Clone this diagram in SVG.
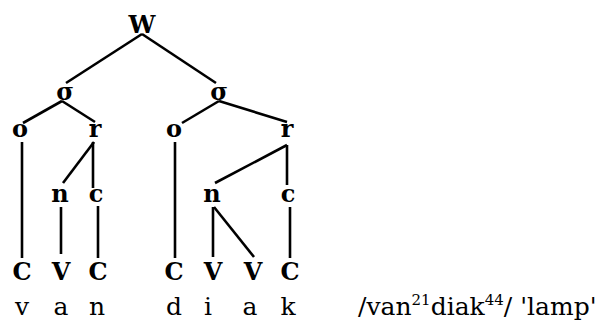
<svg xmlns="http://www.w3.org/2000/svg" width="603" height="321" viewBox="0 0 603 321">
  <style>
    .lab { font-family: "DejaVu Serif", "Liberation Serif", serif; font-weight: bold; font-size: 24px; text-anchor: middle; fill: #000; }
    .seg { font-family: "DejaVu Serif", "Liberation Serif", serif; font-size: 25px; text-anchor: middle; fill: #000; }
    .gloss { font-family: "DejaVu Serif", "Liberation Serif", serif; font-size: 25px; fill: #000; }
    .edges line { stroke: #000; stroke-width: 2.6; stroke-linecap: butt; }
  </style>
  <rect width="603" height="321" fill="#fff"/>

  <!-- branches of the prosodic tree -->
  <g id="connectors" class="edges">
    <line x1="142" y1="34" x2="66" y2="83"/>
    <line x1="142" y1="34" x2="216" y2="83"/>
    <line x1="62" y1="101" x2="23" y2="123"/>
    <line x1="62" y1="101" x2="95" y2="122"/>
    <line x1="219" y1="101" x2="182" y2="123"/>
    <line x1="219" y1="101" x2="287" y2="122"/>
    <line x1="22" y1="142" x2="22" y2="258"/>
    <line x1="94" y1="142" x2="63" y2="183"/>
    <line x1="93" y1="142" x2="93" y2="188"/>
    <line x1="61" y1="207" x2="61" y2="254"/>
    <line x1="98" y1="206" x2="98" y2="258"/>
    <line x1="175" y1="142" x2="175" y2="258"/>
    <line x1="287" y1="145" x2="215" y2="183"/>
    <line x1="287" y1="145" x2="287" y2="185"/>
    <line x1="213" y1="207" x2="213" y2="257"/>
    <line x1="214" y1="207" x2="254" y2="257"/>
    <line x1="290" y1="207" x2="290" y2="258"/>
  </g>

  <g id="word"><text class="lab" x="142" y="33">W</text></g>
  <g id="syl1"><text class="lab" x="65" y="100">σ</text></g>
  <g id="syl2"><text class="lab" x="219" y="100">σ</text></g>
  <g id="onset1"><text class="lab" x="20" y="137">o</text></g>
  <g id="rime1"><text class="lab" x="95" y="137">r</text></g>
  <g id="onset2"><text class="lab" x="174" y="137">o</text></g>
  <g id="rime2"><text class="lab" x="287" y="137">r</text></g>
  <g id="nucleus1"><text class="lab" x="60" y="202">n</text></g>
  <g id="coda1"><text class="lab" x="96" y="202">c</text></g>
  <g id="nucleus2"><text class="lab" x="212" y="202">n</text></g>
  <g id="coda2"><text class="lab" x="288" y="202">c</text></g>

  <g id="skeleton">
    <text class="lab" x="22" y="280">C</text>
    <text class="lab" x="61" y="280">V</text>
    <text class="lab" x="98" y="280">C</text>
    <text class="lab" x="174" y="280">C</text>
    <text class="lab" x="213" y="280">V</text>
    <text class="lab" x="253" y="280">V</text>
    <text class="lab" x="290" y="280">C</text>
  </g>

  <g id="segments">
    <text class="seg" x="22" y="315">v</text>
    <text class="seg" x="61" y="315">a</text>
    <text class="seg" x="97" y="315">n</text>
    <text class="seg" x="174" y="315">d</text>
    <text class="seg" x="208" y="315">i</text>
    <text class="seg" x="250" y="315">a</text>
    <text class="seg" x="288" y="315">k</text>
  </g>

  <g id="gloss">
    <text class="gloss" x="358" y="315">/van<tspan font-size="15" dy="-10">21</tspan><tspan dy="10">diak</tspan><tspan font-size="15" dy="-10">44</tspan><tspan dy="10">/ 'lamp'</tspan></text>
  </g>
</svg>
